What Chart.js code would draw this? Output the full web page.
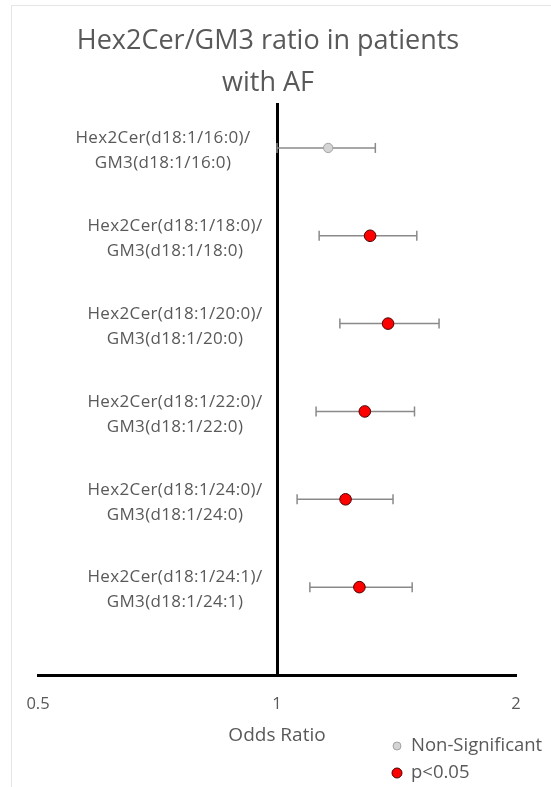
<!DOCTYPE html>
<html><head><meta charset="utf-8">
<script src="https://cdn.jsdelivr.net/npm/chart.js@4.4.1/dist/chart.umd.min.js"></script>
<style>html,body{margin:0;padding:0;background:#fff;} canvas{display:block;}</style>
</head><body>
<canvas id="c" width="551" height="787"></canvas>
<script>
// ---- data ----
const titleLines = ['Hex2Cer/GM3 ratio in patients', 'with AF'];
const categories = [
  ['Hex2Cer(d18:1/16:0)/', 'GM3(d18:1/16:0)'],
  ['Hex2Cer(d18:1/18:0)/', 'GM3(d18:1/18:0)'],
  ['Hex2Cer(d18:1/20:0)/', 'GM3(d18:1/20:0)'],
  ['Hex2Cer(d18:1/22:0)/', 'GM3(d18:1/22:0)'],
  ['Hex2Cer(d18:1/24:0)/', 'GM3(d18:1/24:0)'],
  ['Hex2Cer(d18:1/24:1)/', 'GM3(d18:1/24:1)']
];
const oddsRatio = [1.16, 1.31, 1.38, 1.29, 1.22, 1.27];
const ciLow     = [1.00, 1.13, 1.20, 1.12, 1.06, 1.10];
const ciHigh    = [1.33, 1.50, 1.60, 1.49, 1.40, 1.48];
const significant = [false, true, true, true, true, true];
const xTickValues = [0.5, 1, 2];
const xTitle = 'Odds Ratio';
const legendLabels = ['Non-Significant', 'p<0.05'];

// ---- styles ----
const TEXT = '#595959';
const FONT = '"Open Sans", "Liberation Sans", sans-serif';
const LABEL_X = 175;
const labelNudgeX = [-12, 0, 0, 0, 0, 0];

const rowValue = i => categories.length - i;
const idx = categories.map((_, i) => i);

const ciDatasets = idx.map(i => ({
  label: 'CI ' + (i + 1),
  data: [{x: ciLow[i], y: rowValue(i)}, {x: ciHigh[i], y: rowValue(i)}],
  showLine: true,
  borderColor: '#8a8a8a',
  borderWidth: 1.5,
  pointStyle: 'line',
  pointRotation: 90,
  pointRadius: 5,
  pointBorderColor: '#8a8a8a',
  pointBorderWidth: 1.5
}));

const nonSigData = idx.filter(i => !significant[i]).map(i => ({x: oddsRatio[i], y: rowValue(i)}));
const sigData = idx.filter(i => significant[i]).map(i => ({x: oddsRatio[i], y: rowValue(i)}));

const pointDatasets = [
  {label: legendLabels[0], data: nonSigData, pointStyle: 'circle', pointRadius: 4.7,
   backgroundColor: '#d4d4d4', borderColor: '#a3a3a3', borderWidth: 1, legendRadius: 4},
  {label: legendLabels[1], data: sigData, pointStyle: 'circle', pointRadius: 5.8,
   backgroundColor: '#ff0000', borderColor: '#4a0000', borderWidth: 1, legendRadius: 5}
];

const decor = {
  id: 'decor',
  beforeDraw(chart) {
    const ctx = chart.ctx;
    ctx.save();
    ctx.strokeStyle = '#e6e6e6';
    ctx.lineWidth = 1;
    ctx.strokeRect(11.5, 5.5, 700, 900);
    ctx.restore();
  },
  afterDraw(chart) {
    const ctx = chart.ctx;
    const ys = chart.scales.y;
    ctx.save();
    ctx.fillStyle = TEXT;
    ctx.textAlign = 'center';
    ctx.textBaseline = 'middle';
    // title
    ctx.font = '27px ' + FONT;
    titleLines.forEach((t, k) => ctx.fillText(t, 268, 41 + k * 42.5));
    // category labels
    ctx.font = '17px ' + FONT;
    if ('letterSpacing' in ctx) ctx.letterSpacing = '0.35px';
    categories.forEach((lines, i) => {
      const py = ys.getPixelForValue(rowValue(i)) + 3;
      const cx = LABEL_X + labelNudgeX[i];
      lines.forEach((t, k) => ctx.fillText(t, cx, py + (k - (lines.length - 1) / 2) * 25));
    });
    if ('letterSpacing' in ctx) ctx.letterSpacing = '0px';
    // legend
    ctx.font = '18.5px ' + FONT;
    ctx.textAlign = 'left';
    pointDatasets.forEach((ds, k) => {
      const ly = 746 + k * 27;
      ctx.beginPath();
      ctx.arc(397, ly, ds.legendRadius, 0, Math.PI * 2);
      ctx.fillStyle = ds.backgroundColor;
      ctx.fill();
      ctx.lineWidth = 1;
      ctx.strokeStyle = ds.borderColor;
      ctx.stroke();
      ctx.fillStyle = TEXT;
      ctx.fillText(ds.label, 411, ly);
    });
    ctx.restore();
  }
};

new Chart(document.getElementById('c'), {
  type: 'scatter',
  data: { datasets: [...pointDatasets, ...ciDatasets] },
  options: {
    responsive: false,
    animation: false,
    layout: { padding: { left: 38, right: 35, top: 104, bottom: 0 } },
    plugins: { legend: { display: false }, tooltip: { enabled: false }, title: { display: false } },
    scales: {
      x: {
        type: 'logarithmic',
        min: 0.5, max: 2,
        position: 'bottom',
        afterBuildTicks: s => { s.ticks = xTickValues.map(v => ({value: v})); },
        afterFit: s => { s.height = 112; },
        grid: { display: false, drawTicks: false },
        border: { display: true, color: '#000', width: 3 },
        ticks: { color: TEXT, font: { family: FONT, size: 16.5 }, padding: 19, maxRotation: 0, autoSkip: false,
                 callback: v => String(v) },
        title: { display: true, text: xTitle, color: TEXT, font: { family: FONT, size: 19 }, padding: { top: 0, bottom: 40 } }
      },
      y: {
        type: 'linear',
        min: 0, max: 6.5,
        position: { x: 1 },
        grid: { display: false, drawTicks: false },
        border: { display: true, color: '#000', width: 3 },
        ticks: { display: false }
      }
    }
  },
  plugins: [decor]
});
</script>
</body></html>
